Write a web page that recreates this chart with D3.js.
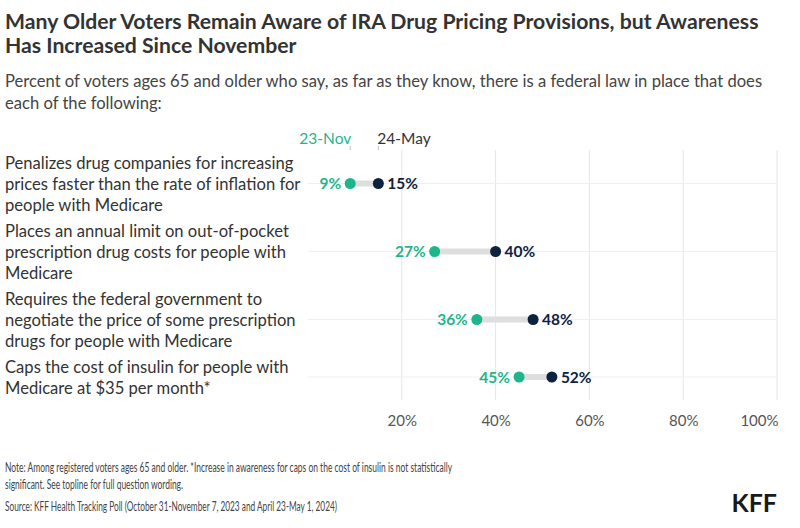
<!DOCTYPE html>
<html>
<head>
<meta charset="utf-8">
<script src="https://cdn.jsdelivr.net/npm/d3@7"></script>
<style>
  body { margin: 0; background: #fff; }
  text { font-family: Lato, "Noto Sans", sans-serif; }
</style>
</head>
<body>
<div id="chart"></div>
<script>
var categories = [
	["Penalizes drug companies for increasing", "prices faster than the rate of inflation for", "people with Medicare"],
	["Places an annual limit on out-of-pocket", "prescription drug costs for people with", "Medicare"],
	["Requires the federal government to", "negotiate the price of some prescription", "drugs for people with Medicare"],
	["Caps the cost of insulin for people with", "Medicare at $35 per month*"]
];
var nov23 = [9, 27, 36, 45];
var may24 = [15, 40, 48, 52];
var seriesNames = ["23-Nov", "24-May"];
var tickValues = [20, 40, 60, 80, 100];

var green = "#1fb58c";
var navy = "#0d223f";
var lineH = 21;

var svg = d3.select("#chart")
	.append("svg")
	.attr("width", 800)
	.attr("height", 528);

// title + subtitle
var title = ["Many Older Voters Remain Aware of IRA Drug Pricing Provisions, but Awareness", "Has Increased Since November"];
title.forEach(function (t, i) {
	svg.append("text")
		.attr("x", 5).attr("y", 29 + i * 24)
		.attr("font-size", "21.2px").attr("font-weight", "bold")
		.attr("fill", "#333")
		.text(t);
});
var subtitle = ["Percent of voters ages 65 and older who say, as far as they know, there is a federal law in place that does", "each of the following:"];
subtitle.forEach(function (t, i) {
	svg.append("text")
		.attr("x", 5).attr("y", 87 + i * 22)
		.attr("font-size", "16.6px")
		.attr("fill", "#444")
		.text(t);
});

var x = d3.scaleLinear().domain([0, 100]).range([308, 777]);

// rows sized by number of label lines
var rowTop = [];
var yPos = 152;
categories.forEach(function (c) {
	rowTop.push(yPos);
	yPos += c.length * lineH + 5;
});
var rowMid = categories.map((c, i) => rowTop[i] + c.length * lineH / 2);
var plotBottom = 400;

// grid
svg.append("g")
	.selectAll("line")
	.data(tickValues)
	.join("line")
	.attr("x1", d => x(d)).attr("x2", d => x(d))
	.attr("y1", 150).attr("y2", plotBottom)
	.attr("stroke", "#e6e6e6").attr("stroke-width", 1);

svg.append("g")
	.selectAll("line")
	.data(rowMid)
	.join("line")
	.attr("x1", x(0)).attr("x2", x(100))
	.attr("y1", d => d).attr("y2", d => d)
	.attr("stroke", "#efefef").attr("stroke-width", 1);

// axis
var xAxis = svg.append("g")
	.attr("transform", `translate(0, ${plotBottom})`)
	.call(d3.axisBottom(x).tickValues(tickValues).tickSize(0).tickFormat(d => d + "%"));
xAxis.select(".domain").remove();
xAxis.selectAll("text")
	.attr("dy", "1.55em")
	.attr("font-size", "15px")
	.attr("fill", "#555")
	.style("font-family", "Lato, 'Noto Sans', sans-serif");
xAxis.selectAll(".tick").filter(d => d === 100).select("text").attr("text-anchor", "end").attr("dx", "1px");

// row labels
categories.forEach(function (c, i) {
	c.forEach(function (line, j) {
		svg.append("text")
			.attr("x", 5).attr("y", rowTop[i] + 17 + j * lineH)
			.attr("font-size", "16.6px").attr("fill", "#333")
			.text(line);
	});
});

// ranges
var rows = svg.append("g")
	.selectAll("g")
	.data(categories.map((c, i) => ({ a: nov23[i], b: may24[i], y: rowMid[i] })))
	.join("g");

rows.append("line")
	.attr("x1", d => x(d.a)).attr("x2", d => x(d.b))
	.attr("y1", d => d.y).attr("y2", d => d.y)
	.attr("stroke", "#dedede").attr("stroke-width", 6);

rows.append("circle")
	.attr("cx", d => x(d.a)).attr("cy", d => d.y)
	.attr("r", 5.5).attr("fill", green);

rows.append("circle")
	.attr("cx", d => x(d.b)).attr("cy", d => d.y)
	.attr("r", 5.5).attr("fill", navy);

rows.append("text")
	.attr("x", d => x(d.a) - 9).attr("y", d => d.y)
	.attr("dy", "0.36em").attr("text-anchor", "end")
	.attr("font-size", "15.5px").attr("font-weight", "bold")
	.attr("fill", green)
	.text(d => d.a + "%");

rows.append("text")
	.attr("x", d => x(d.b) + 9).attr("y", d => d.y)
	.attr("dy", "0.36em")
	.attr("font-size", "15.5px").attr("font-weight", "bold")
	.attr("fill", navy)
	.text(d => d.b + "%");

// legend placed over first row's dots
var legendX = [x(nov23[0]), x(may24[0])];
var legendColors = [green, "#333"];
seriesNames.forEach(function (n, i) {
	svg.append("text")
		.attr("x", legendX[i]).attr("y", 144)
		.attr("text-anchor", i === 0 ? "end" : "start")
		.attr("dx", i === 0 ? "1px" : "-1px")
		.attr("font-size", "15.5px").attr("fill", legendColors[i])
		.text(n);
	svg.append("line")
		.attr("x1", legendX[i]).attr("x2", legendX[i])
		.attr("y1", 146).attr("y2", 150)
		.attr("stroke", "#bbb");
});

// footer (condensed face in the original)
var footFont = "'Liberation Sans Narrow', 'Arial Narrow', Lato, sans-serif";
var footer = [
	{ t: "Note: Among registered voters ages 65 and older. *Increase in awareness for caps on the cost of insulin is not statistically", y: 472, w: 447 },
	{ t: "significant. See topline for full question wording.", y: 489, w: 178 },
	{ t: "Source: KFF Health Tracking Poll (October 31-November 7, 2023 and April 23-May 1, 2024)", y: 511, w: 332 }
];
footer.forEach(function (f) {
	svg.append("text")
		.attr("x", 5).attr("y", f.y)
		.attr("font-size", "13.5px").attr("fill", "#444")
		.style("font-family", footFont)
		.attr("textLength", f.w).attr("lengthAdjust", "spacingAndGlyphs")
		.text(f.t);
});

svg.append("text")
	.attr("x", 777).attr("y", 512)
	.attr("text-anchor", "end")
	.attr("font-size", "25px").attr("font-weight", "bold")
	.style("font-family", footFont)
	.attr("fill", "#1a1a1a")
	.text("KFF");
</script>
</body>
</html>
